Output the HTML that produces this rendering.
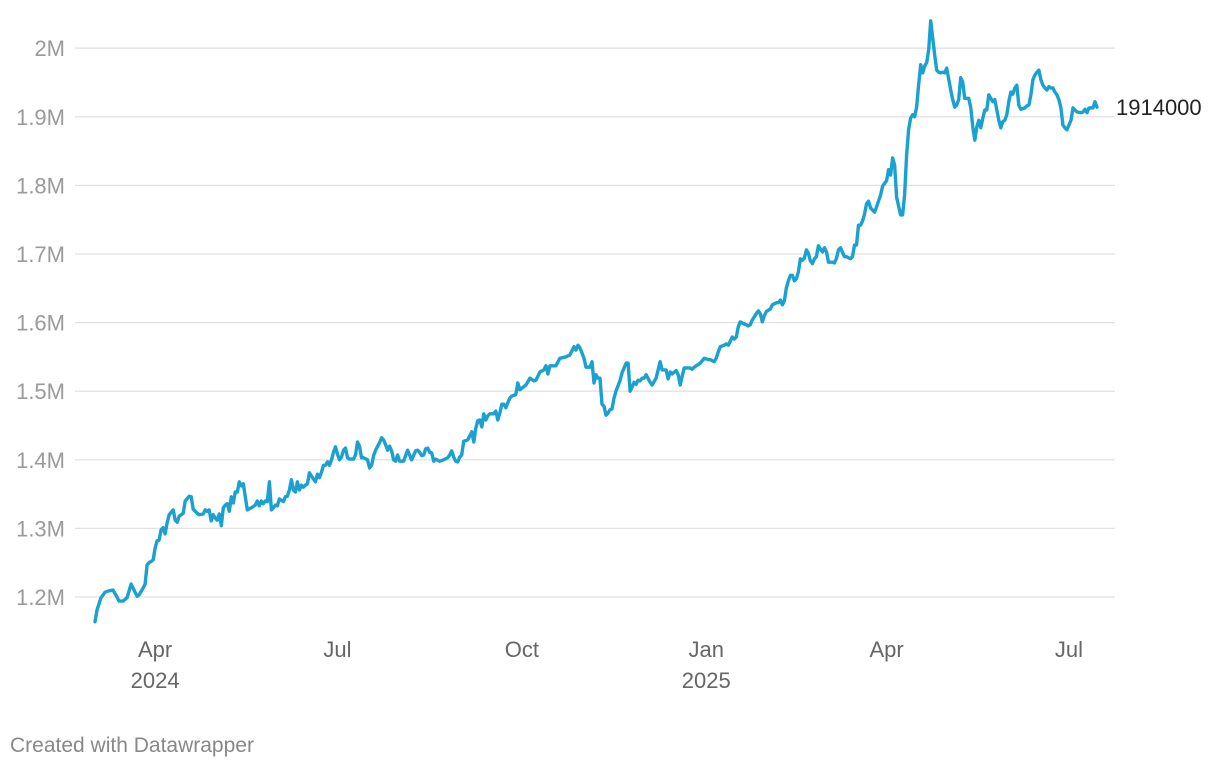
<!DOCTYPE html>
<html><head><meta charset="utf-8">
<style>
html,body{margin:0;padding:0;background:#fff;}
body{width:1220px;height:768px;overflow:hidden;font-family:"Liberation Sans",sans-serif;}
svg text{font-family:"Liberation Sans",sans-serif;}
</style></head>
<body>
<svg id="chart" width="1220" height="768" viewBox="0 0 1220 768" xmlns="http://www.w3.org/2000/svg">
<g id="grid"></g>
<g id="yaxis"></g>
<g id="xaxis"></g>
<g id="series"></g>
<text x="10" y="752" font-size="21" fill="#888">Created with Datawrapper</text>
</svg>
<script>
// days since 2024-03-01
const days = [1,2,4,6,8,10,12,13,15,17,18,19,21,22,23,25,26,27,28,30,31,32,33,34,35,36,37,38,40,41,42,43,45,46,48,49,50,52,53,55,56,57,58,59,60,61,62,63,64,65,66,67,68,69,70,71,72,73,74,75,76,77,79,81,82,83,84,85,86,87,88,89,90,91,92,93,95,96,97,98,99,100,101,102,103,104,105,106,107,108,110,111,112,113,114,115,116,117,118,119,120,121,122,123,124,125,126,127,128,130,131,132,133,134,135,137,138,139,140,141,143,144,145,146,147,148,149,150,151,152,153,155,156,157,158,159,161,162,163,164,165,166,167,168,169,170,171,173,175,177,178,179,180,181,182,183,184,185,187,188,189,190,191,192,193,194,195,196,197,198,200,201,202,203,204,205,206,208,209,211,212,213,216,218,220,221,223,225,226,227,228,231,233,236,238,240,241,242,243,245,246,247,248,249,250,251,252,253,254,255,256,257,258,259,260,261,263,264,266,267,268,269,270,271,272,273,274,275,276,278,279,281,283,284,286,287,288,289,291,292,293,294,295,296,298,299,300,303,305,307,308,310,311,312,313,315,316,317,318,319,320,321,322,323,325,326,327,328,329,331,332,333,334,335,336,338,339,341,342,343,344,345,346,347,348,349,350,351,352,353,354,355,
356,357,358,359,360,361,362,363,364,365,366,367,369,370,371,372,373,375,376,378,379,380,381,382,383,384,385,386,387,388,389,390,391,393,394,396,397,398,399,400,401,403,404,405,406,407,408,409,410,411,412,413,414,415,416,417,418,
419,420,421,422,423,424,425,426,428,429,430,431,432,433,434,435,436,437,438,439,440,441,442,443,444,445,446,447,
448,449,450,451,452,453,454,455,456,457,458,459,460,461,462,463,465,466,467,468,469,470,471,472,473,474,475,476,477,478,479,480,481,482,483,484,
485,486,488,489,490,491,493,494,495,496,497,499,500,501];
const values = [1164,1181,1199,1207,1209,1210,1200,1194,1194,1199,1209,1219,1207,1201,1203,1213,1219,1247,1250,1254,1271,1282,1283,1298,1301,1292,1308,1320,1327,1312,1309,1318,1322,1340,1347,1346,1328,1322,1320,1321,1327,1325,1327,1311,1320,1315,1312,1321,1304,1330,1334,1336,1325,1346,1337,1353,1353,1368,1362,1365,1346,1327,1330,1334,1340,1333,1340,1336,1340,1339,1368,1327,1330,1334,1333,1343,1339,1346,1347,1356,1371,1356,1353,1368,1356,1363,1360,1363,1365,1381,1372,1368,1379,1374,1382,1392,1392,1397,1392,1400,1411,1419,1408,1400,1404,1414,1417,1403,1401,1401,1407,1426,1420,1403,1403,1400,1388,1392,1406,1414,1425,1432,1429,1422,1414,1420,1413,1400,1398,1407,1398,1398,1406,1414,1407,1400,1413,1414,1411,1406,1407,1416,1417,1411,1410,1398,1401,1398,1400,1403,1407,1413,1404,1398,1397,1404,1407,1427,1429,1435,1441,1426,1446,1457,1458,1448,1467,1458,1464,1467,1467,1471,1458,1468,1481,1481,1476,1490,1493,1495,1512,1502,1509,1519,1515,1516,1528,1531,1537,1525,1537,1537,1548,1550,1553,1565,1560,1567,1563,1548,1535,1535,1535,1543,1512,1524,1519,1519,1481,1478,1465,1468,1473,1474,1490,1500,1516,1527,1541,1541,1500,1506,1513,1510,1516,1515,1519,1519,1524,1513,1509,1519,1543,1531,1531,1518,1528,1525,1530,1524,1509,1522,1534,1534,1534,1532,1535,1541,1548,1546,1546,1543,1548,1557,1565,1567,1569,1567,1573,1579,1576,1579,1594,1601,1598,1597,1595,1597,1604,1613,1617,1613,1601,1610,1616,1620,1626,1629,1629,1633,1626,1632,1651,1661,1669,1669,1661,1664,1674,1693,1691,1694,
1706,1701,1690,1686,1693,1696,1712,1707,1703,1709,1703,1688,1688,1687,1694,1706,1709,1696,1696,1693,1696,1713,1713,1742,1742,1748,1758,1773,1777,1767,1764,1761,1769,1786,1799,1807,1823,1815,1840,1830,1783,1757,1757,1786,1844,1881,1898,1903,1900,1914,1946,1976,1964,1974,1979,1998,2040,
2015,1990,1968,1965,1964,1965,1964,1971,1939,1925,1914,1917,1925,1957,1951,1927,1927,1927,1913,1885,1866,1885,1895,1884,1898,1910,1910,1932,
1927,1922,1925,1910,1895,1884,1893,1895,1903,1922,1936,1933,1942,1946,1917,1911,1913,1916,1917,1932,1954,1961,1965,1968,1954,1946,1942,1939,1944,1942,1942,1936,1932,1925,1913,1888,
1884,1881,1895,1913,1910,1907,1906,1907,1911,1906,1913,1913,1922,1914];
const yTicks = [1200,1300,1400,1500,1600,1700,1800,1900,2000];
const yTickLabels = ["1.2M","1.3M","1.4M","1.5M","1.6M","1.7M","1.8M","1.9M","2M"];
const xTickDays = [31,122,214,306,396,487];
const xTickLabels = ["Apr","Jul","Oct","Jan","Apr","Jul"];
const xYearLabels = ["2024","","","2025","",""];
const endLabel = "1914000";

const NS = "http://www.w3.org/2000/svg";
function xs(d){ return 93 + d*2.004; }
function ys(v){ return 597 - (v-1200)*0.686; }
function mk(tag, attrs, parent){ const e=document.createElementNS(NS,tag); for(const k in attrs) e.setAttribute(k,attrs[k]); parent.appendChild(e); return e; }

const grid=document.getElementById('grid'), yax=document.getElementById('yaxis'), xax=document.getElementById('xaxis'), ser=document.getElementById('series');
yTicks.forEach((t,i)=>{
  const l=mk('line',{x1:75,x2:1115,y1:ys(t),y2:ys(t),stroke:'#e2e2e2','stroke-width':1.3},grid);
  
  
  const tx=mk('text',{x:65,y:ys(t)+8,'text-anchor':'end','font-size':22,fill:'#9a9a9a'},yax);
  tx.textContent=yTickLabels[i];
  
  
});
xTickDays.forEach((d,i)=>{
  const tx=mk('text',{x:xs(d),y:657,'text-anchor':'middle','font-size':22,fill:'#666'},xax);
  tx.textContent=xTickLabels[i];
  
  
  if(xYearLabels[i]){
    const ty=mk('text',{x:xs(d),y:688,'text-anchor':'middle','font-size':22,fill:'#666'},xax);
    ty.textContent=xYearLabels[i];
    
    
  }
});
let dstr='';
days.forEach((d,i)=>{ dstr+=(i?'L':'M')+xs(d).toFixed(1)+','+ys(values[i]).toFixed(1); });
const p=mk('path',{d:dstr,fill:'none',stroke:'#1aa1cf','stroke-width':3.4,'stroke-linejoin':'round','stroke-linecap':'round'},ser);


const el=mk('text',{x:1116,y:ys(values[values.length-1])+8,'font-size':22,fill:'#222'},ser);
el.textContent=endLabel;


</script>
</body></html>
